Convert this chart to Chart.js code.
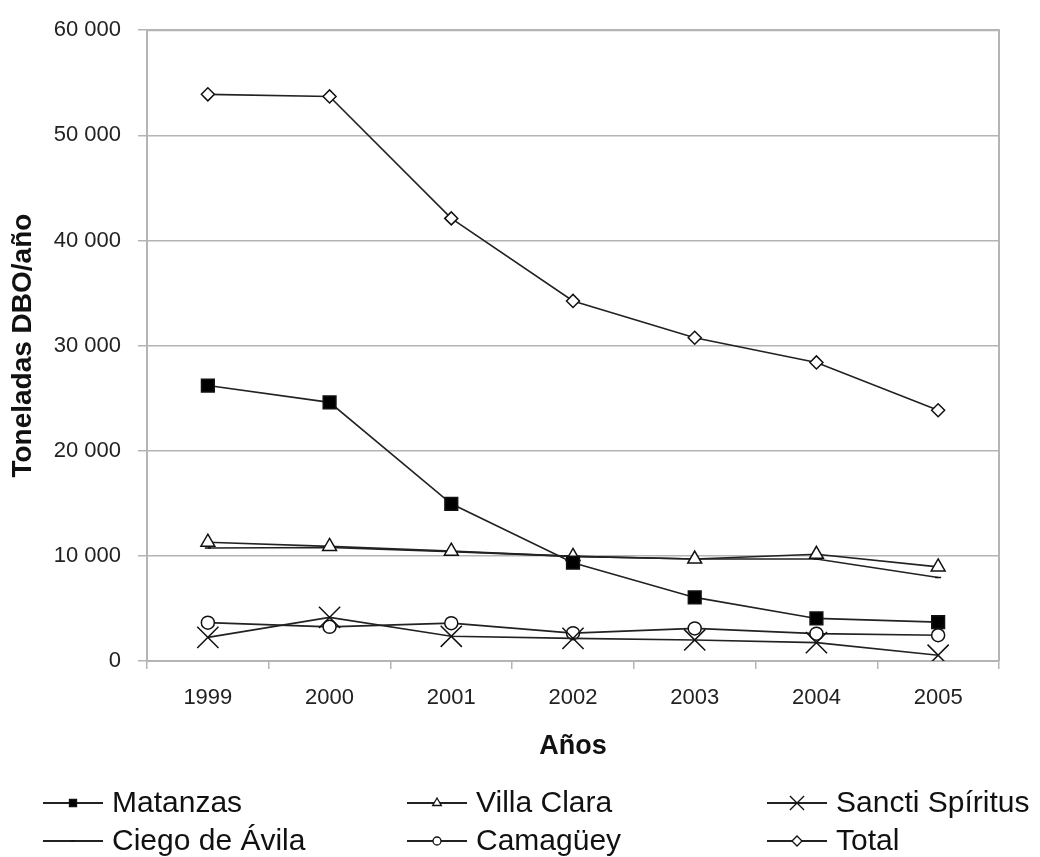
<!DOCTYPE html>
<html>
<head>
<meta charset="utf-8">
<script src="https://cdn.jsdelivr.net/npm/chart.js@4/dist/chart.umd.min.js"></script>
<style>
  html, body { margin: 0; padding: 0; background: #fff; }
  #wrap { width: 1040px; height: 857px; }
</style>
</head>
<body>
<div id="wrap"><canvas id="grafico" width="1040" height="857"></canvas></div>
<script>
// datos
const anos = ['1999', '2000', '2001', '2002', '2003', '2004', '2005'];
const matanzas = [26200, 24600, 14950, 9350, 6050, 4050, 3700];
const villaClara = [11300, 10900, 10450, 9950, 9700, 10150, 8950];
const sanctiSpiritus = [2250, 4150, 2350, 2150, 2000, 1750, 550];
const ciegoDeAvila = [10750, 10800, 10400, 9950, 9700, 9700, 7950];
const camaguey = [3650, 3250, 3600, 2650, 3100, 2600, 2450];
const total = [53900, 53700, 42100, 34250, 30750, 28400, 23850];
const ticksY = [0, 10000, 20000, 30000, 40000, 50000, 60000];

const fuente = 'Liberation Sans, Arial, sans-serif';
const gris = '#b4b4b4';

function serie(label, data, estilo, radio, relleno, radioLeyenda) {
  return {
    label: label,
    data: data,
    borderColor: '#222',
    borderWidth: 1.6,
    pointStyle: estilo,
    pointRadius: radio,
    pointHoverRadius: radio,
    pointBackgroundColor: relleno,
    pointBorderColor: '#111',
    pointBorderWidth: 1.5,
    radioLeyenda: radioLeyenda,
    tension: 0
  };
}

// leyenda en dos filas y tres columnas
const leyenda = {
  id: 'leyenda',
  afterDraw(chart) {
    const ctx = chart.ctx;
    const colX = [43, 407, 767];
    const filaY = [803, 841];
    ctx.save();
    ctx.font = '30px ' + fuente;
    ctx.textBaseline = 'middle';
    ctx.fillStyle = '#111';
    chart.data.datasets.forEach((ds, i) => {
      const x = colX[i % 3];
      const y = filaY[Math.floor(i / 3)];
      ctx.strokeStyle = '#222';
      ctx.lineWidth = 1.8;
      ctx.beginPath();
      ctx.moveTo(x, y);
      ctx.lineTo(x + 60, y);
      ctx.stroke();
      ctx.fillStyle = ds.pointBackgroundColor;
      ctx.strokeStyle = '#111';
      ctx.lineWidth = 1.3;
      Chart.helpers.drawPoint(ctx, { pointStyle: ds.pointStyle, radius: ds.radioLeyenda, rotation: 0, borderWidth: 1.3 }, x + 30, y);
      ctx.fillStyle = '#111';
      ctx.fillText(ds.label, x + 69, y + 1);
    });
    ctx.restore();
  }
};

// borde superior y derecho del area
const borde = {
  id: 'borde',
  beforeDatasetsDraw(chart) {
    const a = chart.chartArea;
    const ctx = chart.ctx;
    ctx.save();
    ctx.strokeStyle = gris;
    ctx.lineWidth = 2;
    ctx.beginPath();
    ctx.moveTo(a.left, a.top);
    ctx.lineTo(a.right, a.top);
    ctx.lineTo(a.right, a.bottom);
    ctx.stroke();
    ctx.restore();
  }
};

new Chart(document.getElementById('grafico'), {
  type: 'line',
  data: {
    labels: anos,
    datasets: [
      serie('Matanzas', matanzas, 'rect', 9, '#000', 5),
      serie('Villa Clara', villaClara, 'triangle', 8, '#fff', 5),
      serie('Sancti Spíritus', sanctiSpiritus, 'crossRot', 15, '#fff', 10),
      serie('Ciego de Ávila', ciegoDeAvila, 'line', 3, '#fff', 2),
      serie('Camagüey', camaguey, 'circle', 6.5, '#fff', 4),
      serie('Total', total, 'rectRot', 6.5, '#fff', 5)
    ]
  },
  options: {
    responsive: false,
    animation: false,
    layout: { padding: { top: 27, right: 41, bottom: 86, left: 0 } },
    plugins: {
      legend: { display: false },
      tooltip: { enabled: false }
    },
    scales: {
      x: {
        offset: true,
        grid: { offset: true, drawOnChartArea: false, color: gris, tickColor: gris, tickLength: 8, lineWidth: 1.5 },
        border: { color: gris, width: 2 },
        ticks: { color: '#222', font: { family: fuente, size: 22 }, padding: 16 },
        title: { display: true, text: 'Años', color: '#111', font: { family: fuente, size: 27, weight: 'bold' }, padding: { top: 0, bottom: 8 } },
        afterFit(s) { s.height = 110; }
      },
      y: {
        min: 0,
        max: 60000,
        afterBuildTicks(s) { s.ticks = ticksY.map(v => ({ value: v })); },
        grid: { color: gris, tickColor: gris, tickLength: 9, lineWidth: 1.5 },
        border: { color: gris, width: 2 },
        ticks: {
          color: '#222',
          font: { family: fuente, size: 22 },
          padding: 17,
          callback: v => String(v).replace(/\B(?=(\d{3})+(?!\d))/g, ' ')
        },
        title: { display: true, text: 'Toneladas DBO/año', color: '#111', font: { family: fuente, size: 28, weight: 'bold' }, padding: { top: 6, bottom: 0 } },
        afterFit(s) { s.width = 147; }
      }
    }
  },
  plugins: [borde, leyenda]
});
</script>
</body>
</html>
